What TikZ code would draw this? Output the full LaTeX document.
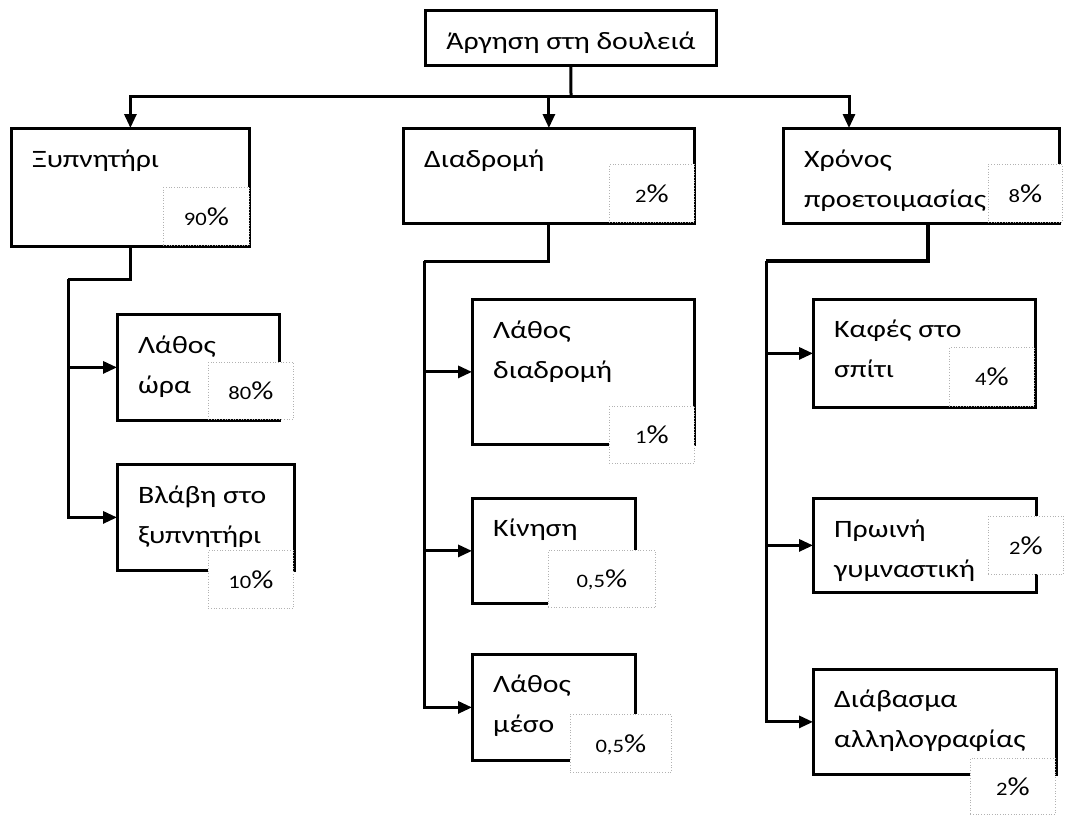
\documentclass[tikz,border=0pt]{standalone}
\usepackage{fontspec}
\setmainfont{Carlito}[FakeStretch=1.19]
\newcommand\pcnum[1]{{\fontsize{19}{24}\selectfont #1}\%}
\usetikzlibrary{arrows.meta,calc}

\tikzset{
  box/.style={draw, line width=1.8pt, fill=white, inner sep=0pt, anchor=north west},
  pbox/.style={draw=black!30, dotted, line width=0.7pt, fill=white, inner sep=0pt, anchor=north west},
  txt/.style={inner sep=0pt, anchor=base west, align=left,
    font=\fontsize{25}{40}\selectfont},
  txt2/.style={txt, yshift=-40pt},
  ptxt/.style={inner sep=0pt, anchor=base, font=\fontsize{26}{28}\selectfont},
  conn/.style={line width=3pt},
  thick conn/.style={line width=4.5pt},
  arr/.style={conn, -{Triangle[length=14pt,width=12pt]}}
}

\begin{document}
\begin{tikzpicture}[x=1pt,y=-1pt]
\useasboundingbox (0,0) rectangle (1067,814);

% main boxes
\node[box, minimum width=290pt, minimum height=54pt]  (top) at (425,10)  {};
\node[box, minimum width=237pt, minimum height=117pt] (xi)  at (11,128)  {};
\node[box, minimum width=290pt, minimum height=94pt]  (dr)  at (403,128) {};
\node[box, minimum width=275pt, minimum height=94pt]  (xr)  at (783,128) {};
\node[box, minimum width=161pt, minimum height=105pt] (lo)  at (117,314) {};
\node[box, minimum width=176pt, minimum height=105pt] (vl)  at (117,464) {};
\node[box, minimum width=221pt, minimum height=144pt] (ld)  at (472,299) {};
\node[box, minimum width=162pt, minimum height=104pt] (ki)  at (472,498) {};
\node[box, minimum width=162pt, minimum height=105pt] (lm)  at (472,654) {};
\node[box, minimum width=221pt, minimum height=107pt] (ka)  at (813,299) {};
\node[box, minimum width=222pt, minimum height=93pt]  (pr)  at (813,498) {};
\node[box, minimum width=242pt, minimum height=104pt] (di)  at (813,669) {};

% connectors from the root
\coordinate (j0) at (571,96);
\draw[conn] (top.south) -- (j0);
\draw[arr] (j0) -| (xi.north);
\draw[arr] (j0) -| (dr.north);
\draw[arr] (j0) -| ([xshift=66pt]xr.north west);

% left branch
\coordinate (a1) at (68,279);
\draw[conn] (xi.south) |- (a1);
\draw[arr] (a1) |- (vl.west);
\draw[arr] (a1 |- lo.west) -- (lo.west);

% middle branch
\coordinate (b1) at (424,261);
\draw[conn] (dr.south) |- (b1);
\draw[arr] (b1) |- (lm.west);
\draw[arr] (b1 |- ld.west) -- (ld.west);
\draw[arr] (b1 |- ki.west) -- (ki.west);

% right branch
\coordinate (c0) at (928,222);
\coordinate (c1) at (766,261);
\draw[thick conn] (c0) |- (c1);
\draw[arr] (c1) |- (di.west);
\draw[arr] (c1 |- ka.west) -- (ka.west);
\draw[arr] (c1 |- pr.west) -- (pr.west);

% redraw box outlines over connector ends
\foreach \n in {top,xi,dr,xr,lo,vl,ld,ki,lm,ka,pr,di}
  \draw[line width=1.8pt] (\n.north west) rectangle (\n.south east);

% percentage boxes
\node[pbox, minimum width=86pt,  minimum height=58pt] (p90) at (163,187) {};
\node[pbox, minimum width=85pt,  minimum height=58pt] (pdr) at (609,164) {};
\node[pbox, minimum width=74pt,  minimum height=58pt] (pxr) at (988,164) {};
\node[pbox, minimum width=85pt,  minimum height=57pt] (p80) at (208,362) {};
\node[pbox, minimum width=85pt,  minimum height=58pt] (p10) at (208,550) {};
\node[pbox, minimum width=85pt,  minimum height=57pt] (p1)  at (609,406) {};
\node[pbox, minimum width=107pt, minimum height=57pt] (pki) at (548,550) {};
\node[pbox, minimum width=101pt, minimum height=58pt] (plm) at (570,714) {};
\node[pbox, minimum width=85pt,  minimum height=59pt] (pka) at (949,347) {};
\node[pbox, minimum width=75pt,  minimum height=58pt] (ppr) at (988,516) {};
\node[pbox, minimum width=85pt,  minimum height=56pt] (pdi) at (970,758) {};

% box texts
\node[inner sep=0pt, anchor=base, font=\fontsize{25}{40}\selectfont] (ttop) at ($(top.north)+(0,39)$) {Άργηση στη δουλειά};
\node[txt]  (txi) at ($(xi.north west)+(21,39)$) {Ξυπνητήρι};
\node[txt]  (tdr) at ($(dr.north west)+(21,39)$) {Διαδρομή};
\node[txt2] (txr) at ($(xr.north west)+(21,39)$) {Χρόνος\\προετοιμασίας};
\node[txt2] (tlo) at ($(lo.north west)+(21,39)$) {Λάθος\\ώρα};
\node[txt2] (tvl) at ($(vl.north west)+(21,39)$) {Βλάβη στο\\ξυπνητήρι};
\node[txt2] (tld) at ($(ld.north west)+(21,39)$) {Λάθος\\διαδρομή};
\node[txt]  (tki) at ($(ki.north west)+(21,38)$) {Κίνηση};
\node[txt2] (tlm) at ($(lm.north west)+(21,38)$) {Λάθος\\μέσο};
\node[txt2] (tka) at ($(ka.north west)+(21,38)$) {Καφές στο\\σπίτι};
\node[txt2] (tpr) at ($(pr.north west)+(21,39)$) {Πρωινή\\γυμναστική};
\node[txt2] (tdi) at ($(di.north west)+(21,38)$) {Διάβασμα\\αλληλογραφίας};

% percentage texts
\node[ptxt] at ($(p90.center)+(0,9)$) {\pcnum{90}};
\node[ptxt] at ($(pdr.center)+(0,9)$) {\pcnum{2}};
\node[ptxt] at ($(pxr.center)+(0,9)$) {\pcnum{8}};
\node[ptxt] at ($(p80.center)+(0,9)$) {\pcnum{80}};
\node[ptxt] at ($(p10.center)+(0,9)$) {\pcnum{10}};
\node[ptxt] at ($(p1.center)+(0,9)$)  {\pcnum{1}};
\node[ptxt] at ($(pki.center)+(0,9)$) {\pcnum{0,5}};
\node[ptxt] at ($(plm.center)+(0,9)$) {\pcnum{0,5}};
\node[ptxt] at ($(pka.center)+(0,9)$) {\pcnum{4}};
\node[ptxt] at ($(ppr.center)+(0,9)$) {\pcnum{2}};
\node[ptxt] at ($(pdi.center)+(0,9)$) {\pcnum{2}};
\end{tikzpicture}
\end{document}
